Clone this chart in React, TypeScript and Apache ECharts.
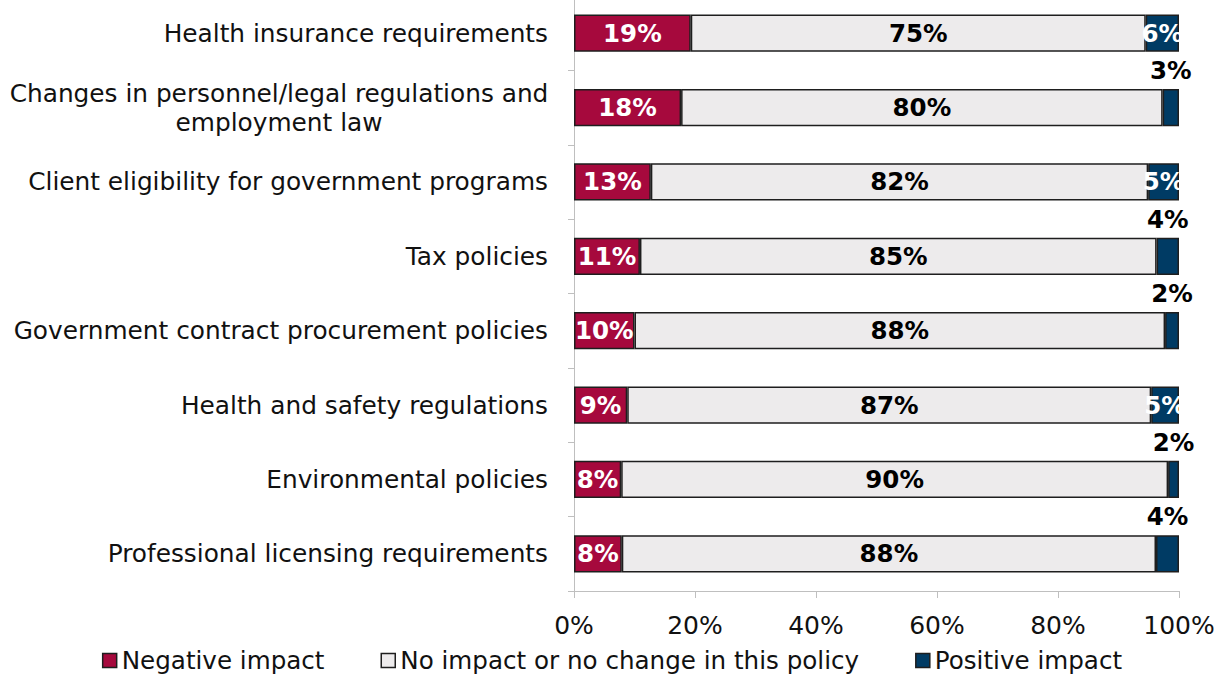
import React, { useEffect, useRef } from "react";
import * as echarts from "echarts";

const categories = [
  "Health insurance requirements",
  "Changes in personnel/legal regulations and\nemployment law",
  "Client eligibility for government programs",
  "Tax policies",
  "Government contract procurement policies",
  "Health and safety regulations",
  "Environmental policies",
  "Professional licensing requirements",
];

const negativeImpact = [19.3, 17.7, 12.7, 10.9, 10.0, 8.8, 7.8, 7.9];
const noImpact = [75.2, 79.6, 82.2, 85.4, 87.7, 86.6, 90.4, 88.3];
const positiveImpact = [5.5, 2.7, 5.1, 3.7, 2.3, 4.6, 1.8, 3.8];

const xTicks = [0, 20, 40, 60, 80, 100];

const seriesNames = [
  "Negative impact",
  "No impact or no change in this policy",
  "Positive impact",
];

const FONT = "DejaVu Sans";
const RED = "#A6093D";
const GREY = "#EDEBEC";
const BLUE = "#003B64";
const BORDER = "#1e1e1e";
const TEXT = "#111111";

export default function App() {
  const ref = useRef<HTMLDivElement>(null);

  useEffect(() => {
    document.body.style.margin = "0";
    if (!ref.current) return;
    const chart = echarts.init(ref.current, undefined, { renderer: "svg" });

    const pct = (p: any) => Math.round(p.value) + "%";
    const labelBase = {
      show: true,
      fontFamily: FONT,
      fontWeight: "bold" as const,
      fontSize: 24.5,
      formatter: pct,
    };

    const positiveData = positiveImpact.map((v) =>
      Math.round(v) >= 5
        ? { value: v, label: { position: "inside", color: "#ffffff" } }
        : { value: v, label: { position: "top", color: "#000000", distance: 6 } }
    );

    const itemStyle = (color: string) => ({
      color,
      borderColor: BORDER,
      borderWidth: 1.5,
    });

    chart.setOption({
      animation: false,
      textStyle: { fontFamily: FONT },
      grid: { left: 574, right: 45, top: 6, bottom: 88, containLabel: false },
      legend: {
        bottom: 1,
        left: "center",
        icon: "rect",
        itemWidth: 14,
        itemHeight: 14,
        itemGap: 56,
        textStyle: { fontFamily: FONT, fontSize: 24.6, color: TEXT },
        itemStyle: { borderColor: BORDER, borderWidth: 1.5 },
        data: seriesNames,
      },
      xAxis: {
        type: "value",
        min: 0,
        max: 100,
        interval: 20,
        axisLine: { show: true, lineStyle: { color: "#bfbfbf", width: 1 } },
        axisTick: { show: true, length: 7, lineStyle: { color: "#bfbfbf" } },
        splitLine: { show: false },
        axisLabel: {
          fontFamily: FONT,
          fontSize: 25,
          color: TEXT,
          margin: 22,
          formatter: (v: number) => (xTicks.includes(v) ? v + "%" : ""),
        },
      },
      yAxis: {
        type: "category",
        inverse: true,
        data: categories,
        axisLine: { show: true, lineStyle: { color: "#bfbfbf", width: 1 } },
        axisTick: { show: true, length: 6, lineStyle: { color: "#bfbfbf" } },
        axisLabel: {
          fontFamily: FONT,
          fontSize: 24.8,
          color: TEXT,
          margin: 26,
          lineHeight: 29,
          formatter: (v: string) => {
            if (v.includes("\n")) {
              return v
                .split("\n")
                .map((l) => "{c|" + l + "}")
                .join("\n");
            }
            return v;
          },
          rich: {
            c: {
              fontFamily: FONT,
              fontSize: 24.8,
              color: TEXT,
              width: 538,
              align: "center",
              lineHeight: 29,
            },
          },
        },
      },
      series: [
        {
          name: seriesNames[0],
          type: "bar",
          stack: "total",
          barWidth: "50%",
          itemStyle: itemStyle(RED),
          label: { ...labelBase, position: "inside", color: "#ffffff" },
          data: negativeImpact,
        },
        {
          name: seriesNames[1],
          type: "bar",
          stack: "total",
          barWidth: "50%",
          itemStyle: itemStyle(GREY),
          label: { ...labelBase, position: "inside", color: "#000000" },
          data: noImpact,
        },
        {
          name: seriesNames[2],
          type: "bar",
          stack: "total",
          barWidth: "50%",
          itemStyle: itemStyle(BLUE),
          label: { ...labelBase },
          data: positiveData,
        },
      ],
    });

    return () => chart.dispose();
  }, []);

  return <div ref={ref} style={{ width: 1224, height: 689, marginTop: -10 }} />;
}
